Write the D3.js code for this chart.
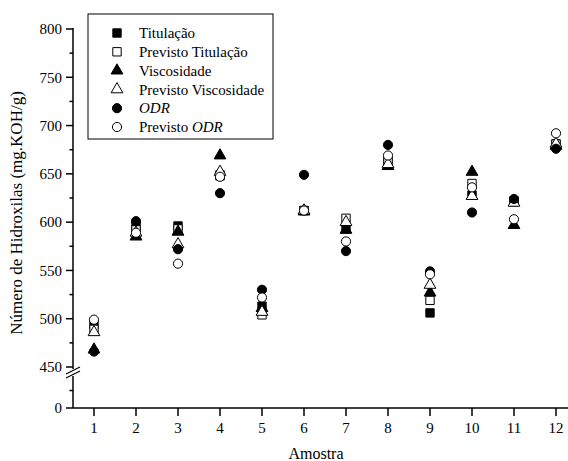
<!DOCTYPE html>
<html>
<head>
<meta charset="utf-8">
<script src="https://cdn.jsdelivr.net/npm/d3@7"></script>
<style>
  body { margin: 0; background: #fff; }
  svg { font-family: "Liberation Serif", "Times New Roman", serif; }
  text { fill: #000; }
</style>
</head>
<body>
<svg></svg>
<script>
var samples = [1, 2, 3, 4, 5, 6, 7, 8, 9, 10, 11, 12];

var titulacao          = [494, 595, 596, 648, 513, 612, 593, 662, 506, 628, 622, 681];
var previstoTitulacao  = [489, 592, 593, 649, 504, 612, 604, 664, 519, 640, 621, 681];
var viscosidade        = [468, 585, 590, 669, 511, 611, 592, 658, 527, 652, 597, 679];
var previstoViscosidade= [486, 589, 577, 652, 507, 612, 600, 660, 535, 627, 620, 681];
var odr                = [466, 601, 572, 630, 530, 649, 570, 680, 549, 610, 624, 676];
var previstoOdr        = [499, 589, 557, 647, 522, 612, 580, 669, 546, 636, 603, 692];

var yMajor = [0, 450, 500, 550, 600, 650, 700, 750, 800];
var yMinor = [25, 475, 525, 575, 625, 675, 725, 775];

var series = [
    { name: "Titulação", values: titulacao, shape: d3.symbolSquare, size: 70, filled: true },
    { name: "Previsto Titulação", values: previstoTitulacao, shape: d3.symbolSquare, size: 70, filled: false },
    { name: "Viscosidade", values: viscosidade, shape: d3.symbolTriangle, size: 60, filled: true },
    { name: "Previsto Viscosidade", values: previstoViscosidade, shape: d3.symbolTriangle, size: 60, filled: false },
    { name: "ODR", values: odr, shape: d3.symbolCircle, size: 66, filled: true, italic: true },
    { name: "Previsto ODR", values: previstoOdr, shape: d3.symbolCircle, size: 66, filled: false, italicPart: "ODR" }
];

var width = 568, height = 461;
var x0 = 73, yBase = 408;

var svg = d3.select("svg")
    .attr("width", width)
    .attr("height", height);

var x = d3.scaleLinear().domain([0.5, 12.5]).range([x0, x0 + 12 * 42]);
// broken axis: 0..50 below the break, 450..800 above it
var y = d3.scaleLinear().domain([0, 50, 450, 800]).range([yBase, 373, 367, 29]);

// axes lines
svg.append("line")
    .attr("x1", x0).attr("x2", width)
    .attr("y1", yBase).attr("y2", yBase)
    .attr("stroke", "#000").attr("stroke-width", 1.5);

svg.append("line")
    .attr("x1", x0).attr("x2", x0)
    .attr("y1", yBase).attr("y2", 376)
    .attr("stroke", "#000").attr("stroke-width", 1.5);
svg.append("line")
    .attr("x1", x0).attr("x2", x0)
    .attr("y1", 369).attr("y2", 28)
    .attr("stroke", "#000").attr("stroke-width", 1.5);

// break marks
[0, 4].forEach(function(o) {
    svg.append("line")
        .attr("x1", x0 - 7).attr("y1", 374 + o)
        .attr("x2", x0 + 7).attr("y2", 367 + o)
        .attr("stroke", "#000").attr("stroke-width", 1.2);
});

// x ticks
svg.selectAll(".xtick")
    .data(samples)
    .enter().append("line")
    .attr("x1", function(d) { return x(d); })
    .attr("x2", function(d) { return x(d); })
    .attr("y1", yBase).attr("y2", yBase + 8)
    .attr("stroke", "#000").attr("stroke-width", 1.5);

svg.selectAll(".xlabel")
    .data(samples)
    .enter().append("text")
    .attr("x", function(d) { return x(d); })
    .attr("y", yBase + 25)
    .attr("text-anchor", "middle")
    .attr("font-size", 15)
    .text(function(d) { return d; });

// y ticks
svg.selectAll(".ymajor")
    .data(yMajor)
    .enter().append("line")
    .attr("x1", x0 - 7).attr("x2", x0)
    .attr("y1", function(d) { return y(d); })
    .attr("y2", function(d) { return y(d); })
    .attr("stroke", "#000").attr("stroke-width", 1.5);

svg.selectAll(".yminor")
    .data(yMinor)
    .enter().append("line")
    .attr("x1", x0 - 3.5).attr("x2", x0)
    .attr("y1", function(d) { return y(d); })
    .attr("y2", function(d) { return y(d); })
    .attr("stroke", "#000").attr("stroke-width", 1.5);

svg.selectAll(".ylabel")
    .data(yMajor)
    .enter().append("text")
    .attr("x", x0 - 11)
    .attr("y", function(d) { return y(d); })
    .attr("dy", "0.35em")
    .attr("text-anchor", "end")
    .attr("font-size", 15)
    .text(function(d) { return d; });

// axis titles
svg.append("text")
    .attr("x", 316).attr("y", 459)
    .attr("text-anchor", "middle")
    .attr("font-size", 16)
    .text("Amostra");

svg.append("text")
    .attr("transform", "translate(22,213) rotate(-90)")
    .attr("text-anchor", "middle")
    .attr("font-size", 17)
    .text("Número de Hidroxilas (mg.KOH/g)");

// points
series.forEach(function(s) {
    svg.append("g").selectAll("path")
        .data(s.values)
        .enter().append("path")
        .attr("transform", function(d, i) {
            return "translate(" + x(samples[i]) + "," + y(d) + ")";
        })
        .attr("d", d3.symbol().type(s.shape).size(s.size))
        .attr("fill", s.filled ? "#000" : "#fff")
        .attr("stroke", "#000")
        .attr("stroke-width", 1);
});

// legend
var legend = svg.append("g");
legend.append("rect")
    .attr("x", 88).attr("y", 14)
    .attr("width", 185).attr("height", 125)
    .attr("fill", "#fff")
    .attr("stroke", "#000")
    .attr("stroke-width", 1);

var item = legend.selectAll(".item")
    .data(series)
    .enter().append("g")
    .attr("transform", function(d, i) {
        return "translate(117," + (33 + i * 18.8) + ")";
    });

item.append("path")
    .attr("d", function(d) { return d3.symbol().type(d.shape).size(d.size)(); })
    .attr("fill", function(d) { return d.filled ? "#000" : "#fff"; })
    .attr("stroke", "#000")
    .attr("stroke-width", 1);

item.append("text")
    .attr("x", 22)
    .attr("dy", "0.35em")
    .attr("font-size", 15)
    .each(function(d) {
        var t = d3.select(this);
        if (d.italic) {
            t.append("tspan").attr("font-style", "italic").text(d.name);
        } else if (d.italicPart) {
            t.append("tspan").text(d.name.replace(d.italicPart, ""));
            t.append("tspan").attr("font-style", "italic").text(d.italicPart);
        } else {
            t.text(d.name);
        }
    });
</script>
</body>
</html>
